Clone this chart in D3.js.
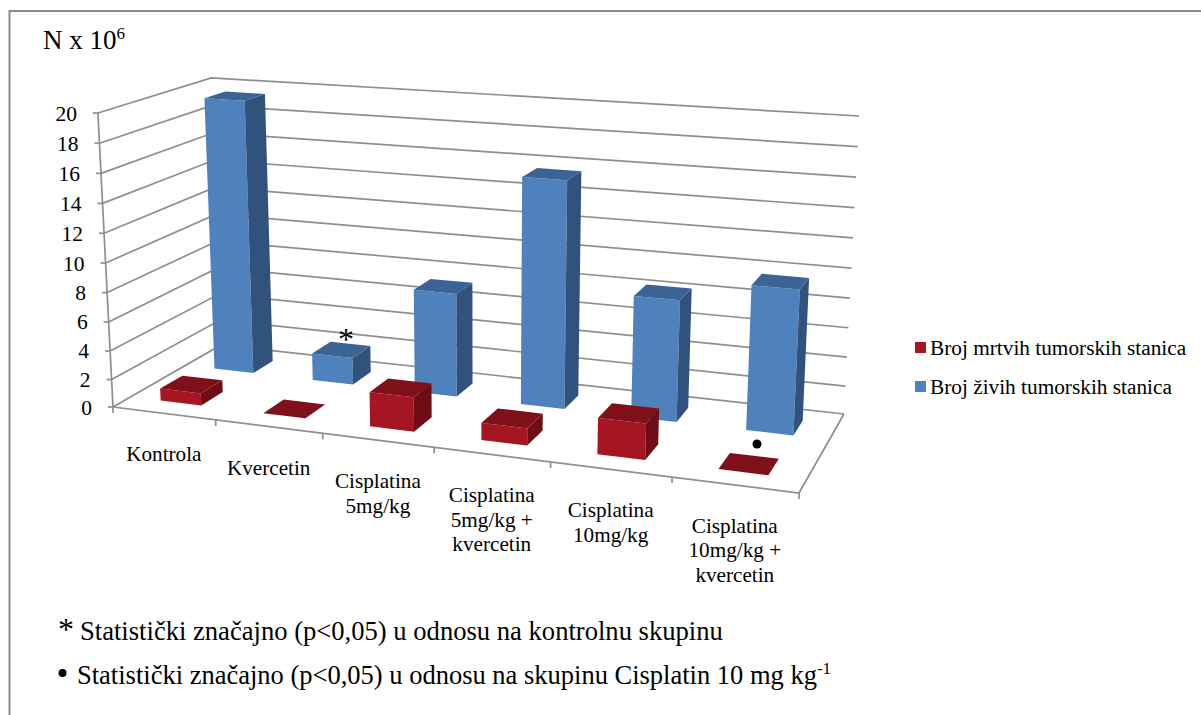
<!DOCTYPE html>
<html><head><meta charset="utf-8">
<script src="https://cdnjs.cloudflare.com/ajax/libs/d3/7.8.5/d3.min.js"></script>
<style>html,body{margin:0;padding:0;background:#fff}svg{display:block}text{font-family:"Liberation Serif",serif;fill:#000}</style>
</head><body><script>
const categories = [["Kontrola"],["Kvercetin"],["Cisplatina","5mg/kg"],["Cisplatina","5mg/kg +","kvercetin"],["Cisplatina","10mg/kg"],["Cisplatina","10mg/kg +","kvercetin"]];
const deadCells = [0.9, 0, 2.4, 1.2, 2.45, 0];
const liveCells = [19.5, 2, 7.3, 15.6, 8.3, 9.7];
const seriesNames = ["Broj mrtvih tumorskih stanica","Broj živih tumorskih stanica"];
const yTicks = [0,2,4,6,8,10,12,14,16,18,20];

const W=1201,H=715;
const svg=d3.select("body").append("svg").attr("width",W).attr("height",H);

// projective floor of the 3-D box: front-left, front-right, back-right, back-left
const floorQuad=[[113,407],[799,493],[844,414],[221,345]];
function homography(q){
  const [[x0,y0],[x1,y1],[x2,y2],[x3,y3]]=q;
  const dx1=x1-x2,dx2=x3-x2,sx=x0-x1+x2-x3,dy1=y1-y2,dy2=y3-y2,sy=y0-y1+y2-y3;
  const den=dx1*dy2-dx2*dy1,g=(sx*dy2-dx2*sy)/den,h=(dx1*sy-sx*dy1)/den;
  const a=x1-x0+g*x1,b=x3-x0+h*x3,d=y1-y0+g*y1,e=y3-y0+h*y3;
  return (u,v)=>{const w=g*u+h*v+1;return [(a*u+b*v+x0)/w,(d*u+e*v+y0)/w];};
}
const hFloor=homography(floorQuad);
// vertical foreshortening: grid steps grow slightly towards the top of the axis
const zScale=d3.scalePow().exponent(1.03).domain([0,20]).range([0,1]);
// perspective: full axis height shrinks with depth, grows to the right; verticals fan out
const axisHeight=294, depthGainU=-0.1144, depthGainV=0.101, fanX=480, fanK=0.00014;
function project(u,v,value){
  const p=hFloor(u,v);
  const h=axisHeight/(1+depthGainU*u+depthGainV*v)*zScale(value);
  return [p[0]+(p[0]-fanX)*fanK*h,p[1]-h];
}
const uScale=d3.scaleBand().domain(d3.range(categories.length)).range([0,1]).paddingInner(.6).paddingOuter(.3);
const vScale=d3.scaleBand().domain([0,1]).range([0,1]).paddingInner(.6).paddingOuter(.3);
const uTick=d3.scaleLinear().domain([0,categories.length]).range([0,1]);

// frame
svg.append("path").attr("d",`M1201,11H9.5V715`).attr("fill","none").attr("stroke","#8c8c8c").attr("stroke-width",2);

const GRID="#8f8f8f";
const line=d3.line();
const g=svg.append("g");
function stroke(pts){g.append("path").attr("d",line(pts)).attr("fill","none").attr("stroke",GRID).attr("stroke-width",1.7);}
yTicks.forEach(t=>{
  stroke([project(0,0,t),project(0,1,t),project(1,1,t)]);
  const p=project(0,0,t);
  stroke([[p[0]-5,p[1]],p]);
  g.append("text").attr("x",p[0]-21).attr("y",p[1]+7.5).attr("text-anchor","end").attr("font-size",21.5).text(t);
});
stroke([project(0,0,0),project(0,0,20)]);
stroke([project(0,0,0),project(1,0,0),project(1,1,0)]);
d3.range(categories.length+1).forEach(i=>{
  const p=project(uTick(i),0,0);
  stroke([p,[p[0],p[1]+6]]);
});

// bars
const palette=[{front:"#A61522",top:"#7F0F19",side:"#6E0D15"},{front:"#4F81BD",top:"#3B6495",side:"#30527C"}];
function bar(i,s,value){
  const u0=uScale(i),u1=u0+uScale.bandwidth(),v0=vScale(s),v1=v0+vScale.bandwidth(),c=palette[s];
  const poly=(pts,fill)=>g.append("polygon").attr("points",pts.map(p=>p.join(",")).join(" ")).attr("fill",fill);
  if(value>0){
    poly([project(u0,v0,0),project(u1,v0,0),project(u1,v0,value),project(u0,v0,value)],c.front);
    poly([project(u1,v0,0),project(u1,v1,0),project(u1,v1,value),project(u1,v0,value)],c.side);
  }
  poly([project(u0,v0,value),project(u1,v0,value),project(u1,v1,value),project(u0,v1,value)],c.top);
}
liveCells.forEach((d,i)=>bar(i,1,d));
deadCells.forEach((d,i)=>bar(i,0,d));

// category labels
categories.forEach((lines,i)=>{
  const p=project(uTick(i+.5),0,0);
  const t=g.append("text").attr("text-anchor","middle").attr("font-size",21.2);
  lines.forEach((l,k)=>t.append("tspan").attr("x",p[0]).attr("y",p[1]+48+k*24.5).text(l));
});

// axis title
const title=svg.append("text").attr("x",43).attr("y",49).attr("font-size",27);
title.append("tspan").text("N x 10");
title.append("tspan").attr("dy",-10).attr("font-size",17).text("6");

// legend
[0,1].forEach(s=>{
  const y=342+s*39;
  svg.append("rect").attr("x",915).attr("y",y).attr("width",11).attr("height",11).attr("fill",palette[s].front);
  svg.append("text").attr("x",930).attr("y",y+13).attr("font-size",21.3).text(seriesNames[s]);
});

// significance marks
svg.append("text").attr("x",346).attr("y",350).attr("text-anchor","middle").attr("font-size",32).text("*");
svg.append("circle").attr("cx",757).attr("cy",444).attr("r",4.5).attr("fill","#000");

// footnotes
svg.append("text").attr("x",66).attr("y",640).attr("text-anchor","middle").attr("font-size",32).text("*");
svg.append("text").attr("x",80).attr("y",640).attr("font-size",26.6).text("Statistički značajno (p<0,05) u odnosu na kontrolnu skupinu");
svg.append("circle").attr("cx",62.5).attr("cy",673).attr("r",4).attr("fill","#000");
const f=svg.append("text").attr("x",77).attr("y",684).attr("font-size",26.5);
f.append("tspan").text("Statistički značajno (p<0,05) u odnosu na skupinu Cisplatin 10 mg kg");
f.append("tspan").attr("dy",-10).attr("font-size",17).text("-1");
</script></body></html>
